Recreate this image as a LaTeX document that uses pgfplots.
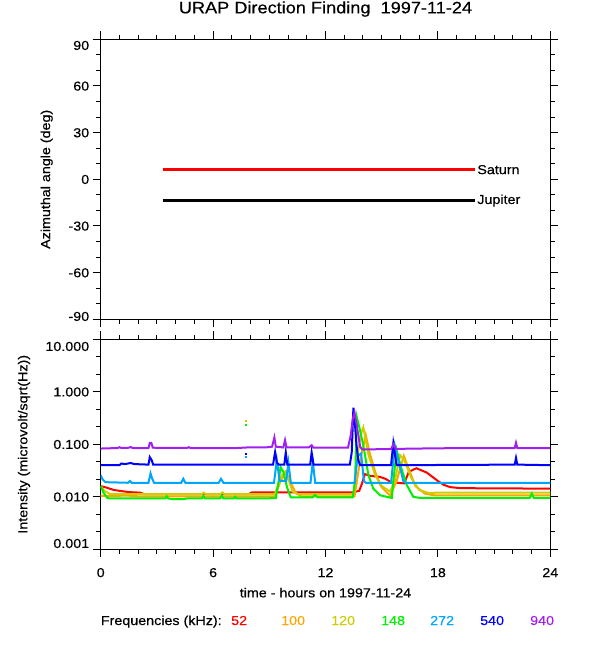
\documentclass[border=0pt]{standalone}
\usepackage{fontspec}
\setmainfont{Liberation Sans}[FakeStretch=1.1, FakeBold=0.4]
\usepackage{pgfplots}
\usepackage{pgfplotstable}
\pgfplotsset{compat=1.18}
\definecolor{cA}{RGB}{255,0,0}
\definecolor{cB}{RGB}{255,165,0}
\definecolor{cC}{RGB}{205,205,0}
\definecolor{cD}{RGB}{0,240,0}
\definecolor{cE}{RGB}{0,165,255}
\definecolor{cF}{RGB}{0,0,255}
\definecolor{cG}{RGB}{160,32,240}
\newcommand\lab{\fontsize{13bp}{15bp}\selectfont}

\pgfplotstableread{
t v
0 0.016
0.3 0.015
0.7 0.0135
1.0 0.013
1.5 0.0123
2.1 0.012
2.3 0.0113
7.9 0.0113
8.1 0.0122
13.5 0.0122
13.8 0.013
13.95 0.018
14.1 0.027
14.4 0.025
14.9 0.024
15.2 0.022
15.5 0.019
15.8 0.0185
16.2 0.018
16.45 0.03
16.85 0.035
17.4 0.029
18.0 0.020
18.3 0.017
18.65 0.0153
19.2 0.0146
24 0.0143
}\fA
\pgfplotstableread{
t v
0 0.0104
1.5 0.0105
2.0 0.0102
9.3 0.0102
9.6 0.02
9.9 0.03
10.1 0.02
10.4 0.012
10.7 0.0102
13.55 0.0102
13.85 0.05
14.15 0.15
14.35 0.07
14.65 0.03
14.95 0.016
15.45 0.0105
15.8 0.02
16.18 0.06
16.5 0.03
16.8 0.016
17.3 0.0115
17.8 0.0107
24 0.0106
}\fB
\pgfplotstableread{
t v
0 0.016
0.2 0.013
0.5 0.0113
5.4 0.0113
5.5 0.0120
5.6 0.0113
6.4 0.0113
6.5 0.0121
6.6 0.0113
9.3 0.0113
9.45 0.016
9.65 0.025
9.85 0.03
10.05 0.02
10.25 0.0125
10.5 0.0113
13.5 0.0113
13.68 0.05
13.87 0.15
14.02 0.21
14.15 0.12
14.3 0.062
14.65 0.026
15.0 0.016
15.45 0.0126
15.7 0.02
15.98 0.062
16.2 0.05
16.6 0.022
17.0 0.0135
17.5 0.0118
18 0.012
24 0.012
}\fC
\pgfplotstableread{
t v
0 0.016
0.15 0.012
0.35 0.0095
0.5 0.0093
3.45 0.0093
3.52 0.0102
3.6 0.0093
3.9 0.0090
4.4 0.0090
4.6 0.0093
5.4 0.0093
5.48 0.0103
5.56 0.0093
6.38 0.0093
6.46 0.0105
6.55 0.0093
7.1 0.0093
7.17 0.0100
7.25 0.0093
9.35 0.0094
9.5 0.02
9.6 0.037
9.75 0.03
9.95 0.015
10.15 0.0097
11.3 0.0097
11.44 0.0108
11.6 0.0097
13.45 0.0097
13.58 0.02
13.67 0.33
13.82 0.2
14.02 0.095
14.29 0.026
14.55 0.0143
14.91 0.0107
15.54 0.0095
15.62 0.02
15.8 0.077
16.0 0.04
16.34 0.0166
16.69 0.0100
17.05 0.0095
22.9 0.0095
23.01 0.0115
23.12 0.0095
24 0.0095
}\fD
\pgfplotstableread{
t v
0 0.026
0.08 0.022
0.25 0.019
1.45 0.0185
1.56 0.020
1.65 0.0185
2.55 0.0185
2.66 0.028
2.75 0.022
2.85 0.0185
4.3 0.0185
4.41 0.022
4.52 0.0185
6.3 0.0185
6.42 0.022
6.55 0.0185
9.25 0.0185
9.4 0.05
9.55 0.02
9.9 0.02
10.02 0.045
10.15 0.0185
11.2 0.0185
11.32 0.047
11.45 0.0185
13.55 0.0185
13.72 0.06
13.9 0.067
14.05 0.02
14.15 0.0185
15.5 0.0185
15.7 0.095
15.95 0.04
16.15 0.02
16.3 0.0185
24 0.0185
}\fE
\pgfplotstableread{
t v
0 0.040
1.0 0.040
1.1 0.043
1.3 0.042
1.6 0.044
1.8 0.042
2.55 0.041
2.62 0.057
2.72 0.050
2.8 0.041
9.2 0.041
9.31 0.071
9.4 0.045
9.5 0.041
9.8 0.041
9.88 0.07
9.96 0.041
11.18 0.041
11.26 0.07
11.36 0.041
13.3 0.041
13.4 0.07
13.49 0.5
13.57 0.25
13.65 0.1
13.75 0.05
13.85 0.040
15.5 0.040
15.62 0.105
15.72 0.06
15.8 0.040
22.1 0.041
22.17 0.055
22.24 0.041
24 0.040
}\fF
\pgfplotstableread{
t v
0 0.083
0.5 0.084
0.9 0.085
1.0 0.088
1.1 0.085
1.5 0.086
1.6 0.089
1.7 0.085
2.55 0.085
2.62 0.107
2.7 0.107
2.78 0.086
4.6 0.085
4.7 0.088
4.8 0.085
7.3 0.085
7.8 0.087
8.8 0.087
9.15 0.09
9.27 0.135
9.35 0.09
9.75 0.087
9.84 0.12
9.92 0.087
11.1 0.087
11.26 0.096
11.35 0.086
13.2 0.086
13.35 0.15
13.45 0.3
13.55 0.4
13.65 0.25
13.75 0.15
13.85 0.09
13.95 0.08
15.5 0.081
15.62 0.1
15.75 0.082
16 0.082
18 0.084
22.1 0.085
22.17 0.107
22.24 0.085
24 0.085
}\fG

\pgfplotsset{
  urap/.style={
    scale only axis, anchor=south west,
    width=449.6bp,
    xmin=0, xmax=24,
    xtick={0,6,12,18,24},
    minor xtick={1,2,3,4,5,7,8,9,10,11,13,14,15,16,17,19,20,21,22,23},
    tick align=outside,
    major tick length=8bp, minor tick length=4.5bp,
    axis line style={line width=1bp},
    every tick/.style={black, line width=1bp},
    ticklabel style={font=\lab, text height=9.3bp, text depth=0bp},
    xticklabel style={yshift=-7bp},
    label style={font=\lab},
    clip=true,
  },
  ser/.style={line width=2bp},
}

\begin{document}
\begin{tikzpicture}
\useasboundingbox (0,0) rectangle (600bp,650bp);

\begin{axis}[urap,
  at={(100.7bp,330.7bp)}, height=280bp,
  ymin=-90, ymax=90,
  ytick={-90,-60,-30,0,30,60,90},
  yticklabels={{\raisebox{3bp}{-90}},-60,-30,0,30,60,{\raisebox{-6bp}{90}}},
  minor ytick={-80,-70,-50,-40,-20,-10,10,20,40,50,70,80},
  xticklabels={},
  title={URAP Direction Finding\ \ 1997-11-24},
  title style={at={(axis description cs:0.5,1)}, anchor=base, yshift=20bp,
    font=\fontsize{16.5bp}{19bp}\selectfont},
  ylabel={Azimuthal angle (deg)},
  ylabel style={at={(axis description cs:-0.1201,0.5)}, anchor=center},
]
\addplot[cA, line width=3bp] coordinates {(3.3,6.2) (20.0,6.2)}
  node[pos=1, anchor=west, inner sep=0.5bp, black, font=\lab] {Saturn};
\addplot[black, line width=3bp] coordinates {(3.3,-13.7) (20.0,-13.7)}
  node[pos=1, anchor=west, inner sep=0.5bp, black, font=\lab] {Jupiter};
\end{axis}

\begin{axis}[urap,
  at={(100.7bp,100.7bp)}, height=210bp,
  ymode=log, ymin=0.001, ymax=10,
  ytick={0.001,0.01,0.1,1,10},
  yticklabels={{\raisebox{6bp}{0.001}},0.010,0.100,1.000,{\raisebox{-7bp}{10.000}}},
  minor ytick={0.002154,0.004642,0.02154,0.04642,0.2154,0.4642,2.154,4.642},
  xticklabels={0,6,12,18,24},
  xlabel={time - hours on 1997-11-24},
  xlabel style={at={(axis description cs:0.5,0)}, anchor=base, yshift=-48bp},
  ylabel={Intensity (microvolt/sqrt(Hz))},
  ylabel style={at={(axis description cs:-0.1706,0.5)}, anchor=center},
]
\addplot[ser, cA] table[x=t, y=v] {\fA};
\addplot[ser, cB] table[x=t, y=v] {\fB};
\addplot[ser, cC] table[x=t, y=v] {\fC};
\addplot[ser, cD] table[x=t, y=v] {\fD};
\addplot[ser, cE] table[x=t, y=v] {\fE};
\addplot[ser, cF] table[x=t, y=v] {\fF};
\addplot[ser, cG] table[x=t, y=v] {\fG};
\addplot[ser, cC] coordinates {(7.70,0.274) (7.83,0.274)};
\addplot[ser, cD] coordinates {(7.70,0.23) (7.83,0.23)};
\addplot[ser, cF] coordinates {(7.70,0.0645) (7.83,0.0645)};
\addplot[ser, cE] coordinates {(7.70,0.057) (7.83,0.057)};
\end{axis}

\node[anchor=base west, inner sep=0pt, font=\lab] at (100.7bp,25bp) {Frequencies (kHz):};
\node[anchor=base west, inner sep=0pt, font=\lab, text=cA] at (231bp,25bp) {52};
\node[anchor=base west, inner sep=0pt, font=\lab, text=cB] at (281bp,25bp) {100};
\node[anchor=base west, inner sep=0pt, font=\lab, text=cC] at (331bp,25bp) {120};
\node[anchor=base west, inner sep=0pt, font=\lab, text=cD] at (381bp,25bp) {148};
\node[anchor=base west, inner sep=0pt, font=\lab, text=cE] at (430bp,25bp) {272};
\node[anchor=base west, inner sep=0pt, font=\lab, text=cF] at (480bp,25bp) {540};
\node[anchor=base west, inner sep=0pt, font=\lab, text=cG] at (530bp,25bp) {940};
\end{tikzpicture}
\end{document}
